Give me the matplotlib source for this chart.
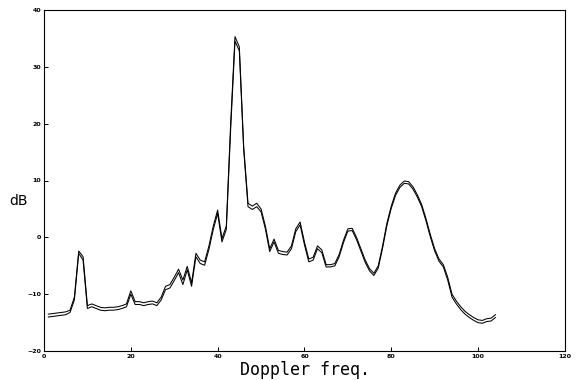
import matplotlib
matplotlib.use('Agg')
import matplotlib.pyplot as plt

# doppler bins
freq = list(range(1, 105))

# upper trace (dB)
spec_a = [-13.5, -13.4, -13.3, -13.2, -13.1, -12.8, -10.5, -2.4, -3.4, -12.0,
          -11.7, -12.0, -12.3, -12.4, -12.3, -12.3, -12.2, -12.0, -11.7, -9.4,
          -11.3, -11.3, -11.5, -11.3, -11.2, -11.5, -10.5, -8.6, -8.3, -7.0,
          -5.6, -7.5, -5.1, -8.0, -2.8, -4.0, -4.3, -1.5, 2.0, 4.8,
          -0.2, 2.0, 20.0, 35.3, 33.5, 16.0, 6.0, 5.5, 6.0, 5.0,
          2.0, -2.0, -0.3, -2.3, -2.5, -2.6, -1.5, 1.5, 2.7, -0.8,
          -3.8, -3.5, -1.5, -2.2, -4.8, -4.8, -4.6, -3.0, -0.5, 1.5,
          1.6, 0.0, -2.0, -4.0, -5.5, -6.3, -5.0, -1.5, 2.5, 5.5,
          7.8, 9.2, 9.9, 9.8, 8.9, 7.5, 5.8, 3.3, 0.5, -2.0,
          -3.8, -4.8, -7.0, -10.0, -11.2, -12.2, -13.0, -13.6, -14.1, -14.5,
          -14.6, -14.3, -14.2, -13.6]

# lower trace (dB)
spec_b = [-14.0, -13.9, -13.8, -13.7, -13.6, -13.2, -11.0, -2.8, -4.0, -12.5,
          -12.2, -12.5, -12.8, -12.9, -12.8, -12.8, -12.7, -12.5, -12.2, -10.0,
          -11.8, -11.8, -12.0, -11.8, -11.7, -12.0, -11.0, -9.2, -8.9, -7.6,
          -6.2, -8.3, -5.7, -8.6, -3.4, -4.6, -4.9, -2.1, 1.4, 4.2,
          -0.8, 1.4, 19.0, 34.5, 32.8, 15.5, 5.4, 4.9, 5.4, 4.5,
          1.5, -2.5, -0.8, -2.8, -3.0, -3.1, -2.0, 1.0, 2.2, -1.3,
          -4.3, -4.0, -2.0, -2.7, -5.2, -5.2, -5.0, -3.4, -0.9, 1.1,
          1.2, -0.4, -2.4, -4.4, -5.9, -6.7, -5.4, -1.9, 2.1, 5.1,
          7.4, 8.8, 9.5, 9.4, 8.5, 7.1, 5.4, 2.9, 0.1, -2.4,
          -4.2, -5.2, -7.5, -10.5, -11.7, -12.7, -13.5, -14.1, -14.6, -15.0,
          -15.1, -14.8, -14.7, -14.1]

xticks = [0, 20, 40, 60, 80, 100, 120]
yticks = [-20, -10, 0, 10, 20, 30, 40]

fig = plt.figure(figsize=(5.82, 3.8), dpi=100)
ax = fig.add_axes([0.0756, 0.076, 0.895, 0.898])

ax.plot(freq, spec_a, '-', color='black', lw=0.75)
ax.plot(freq, spec_b, '-', color='black', lw=0.75)

ax.set_xlim(0, 120)
ax.set_ylim(-20, 40)
ax.set_xticks(xticks)
ax.set_yticks(yticks)
ax.tick_params(direction='in', length=3, width=0.7, labelsize=4.5, pad=2)
for lab in ax.get_xticklabels() + ax.get_yticklabels():
    lab.set_fontweight('bold')
for s in ax.spines.values():
    s.set_linewidth(0.8)

fig.text(0.031, 0.47, 'dB', fontsize=10, ha='center', va='center')
fig.text(0.524, 0.027, 'Doppler freq.', fontsize=12, ha='center', va='center',
         family='DejaVu Sans Mono')

plt.savefig('out.png', dpi=100)
